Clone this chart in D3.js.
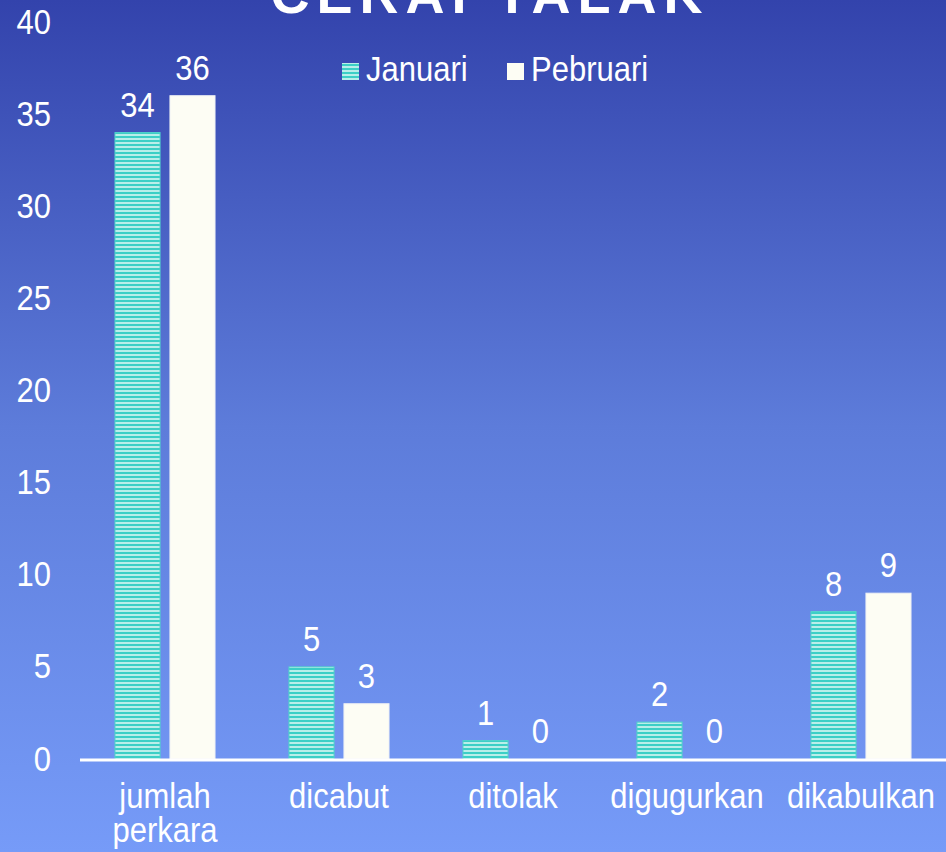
<!DOCTYPE html>
<html>
<head>
<meta charset="utf-8">
<script src="https://cdn.jsdelivr.net/npm/d3@7"></script>
<style>
  html, body { margin: 0; padding: 0; overflow: hidden; }
  svg text { font-family: "Liberation Sans", Arial, sans-serif; fill: #fff; }
</style>
</head>
<body>
<svg class="chart" width="946" height="852"></svg>
<script>
var categories = [["jumlah", "perkara"], ["dicabut"], ["ditolak"], ["digugurkan"], ["dikabulkan"]];
var series = ["Januari", "Pebruari"];
var januari = [34, 5, 1, 2, 8];
var pebruari = [36, 3, 0, 0, 9];
var yTicks = [0, 5, 10, 15, 20, 25, 30, 35, 40];

var values = [januari, pebruari];
var svg = d3.select(".chart");
var width = 946, height = 852;
var fontSize = "31px";

// the source text looks a bit taller than wide
function stretch(sel) {
    sel.attr("transform", function () {
        var t = d3.select(this);
        var x = +t.attr("x") || 0, yy = +t.attr("y") || 0;
        return "translate(" + x + "," + yy + ") scale(1,1.13) translate(" + (-x) + "," + (-yy) + ")";
    });
}

var defs = svg.append("defs");
var bg = defs.append("linearGradient").attr("id", "bg")
    .attr("x1", 0).attr("y1", 0).attr("x2", 0).attr("y2", 1);
bg.append("stop").attr("offset", "0%").attr("stop-color", "#3343ac");
bg.append("stop").attr("offset", "50%").attr("stop-color", "#5d7cda");
bg.append("stop").attr("offset", "100%").attr("stop-color", "#769bf8");

var pat = defs.append("pattern").attr("id", "stripes")
    .attr("patternUnits", "userSpaceOnUse").attr("width", 8).attr("height", 4);
pat.append("rect").attr("width", 8).attr("height", 4).attr("fill", "#b9eee9");
pat.append("rect").attr("width", 8).attr("height", 2).attr("fill", "#3ccfc6");

svg.append("rect").attr("width", width).attr("height", height).attr("fill", "url(#bg)");

var x0 = d3.scaleBand().domain(d3.range(categories.length))
    .range([78, 948]).paddingInner(0.425).paddingOuter(0.2125);
var x1 = d3.scaleBand().domain(series).range([0, x0.bandwidth()]).paddingInner(0.18);
var y = d3.scaleLinear().domain([0, 40]).range([759, 22]);
var colors = ["url(#stripes)", "#fdfdf4"];

// title (cut off at top in the source)
svg.append("text")
    .attr("x", 490).attr("y", 13)
    .attr("text-anchor", "middle")
    .style("font-size", "54px").style("font-weight", "bold")
    .style("letter-spacing", "7px")
    .text("CERAI TALAK");

// y axis labels
var yAxis = svg.append("g")
    .attr("transform", "translate(51,0)")
    .call(d3.axisLeft(y).tickValues(yTicks).tickSize(0).tickPadding(0));
yAxis.select(".domain").remove();
yAxis.selectAll("text")
    .attr("dy", null).attr("dominant-baseline", null)
    .attr("y", 11)
    .style("font-size", fontSize).attr("fill", "#fff")
    .call(stretch);

// bars
var groups = svg.selectAll(".grp").data(categories).enter().append("g")
    .attr("class", "grp")
    .attr("transform", function (d, i) { return "translate(" + x0(i) + ",0)"; });

series.forEach(function (s, si) {
    groups.append("rect")
        .attr("x", x1(s))
        .attr("y", function (d, i) { return y(values[si][i]); })
        .attr("width", x1.bandwidth())
        .attr("height", function (d, i) { return y(0) - y(values[si][i]); })
        .attr("fill", colors[si])
        .attr("stroke", si === 0 ? "#4fd3cb" : "#eef0f4")
        .attr("stroke-width", 1);

    groups.append("text")
        .attr("x", x1(s) + x1.bandwidth() / 2)
        .attr("y", function (d, i) { return y(values[si][i]) - 16; })
        .attr("text-anchor", "middle")
        .style("font-size", fontSize)
        .text(function (d, i) { return values[si][i]; })
        .call(stretch);
});

// x axis line
svg.append("line")
    .attr("x1", 80).attr("x2", 946).attr("y1", 760).attr("y2", 760)
    .attr("stroke", "#fff").attr("stroke-width", 3);

// category labels
groups.append("text")
    .attr("x", x0.bandwidth() / 2)
    .attr("y", 808)
    .attr("text-anchor", "middle")
    .style("font-size", fontSize)
    .call(stretch)
    .selectAll("tspan").data(function (d) { return d; }).enter().append("tspan")
    .attr("x", x0.bandwidth() / 2)
    .attr("dy", function (d, i) { return i === 0 ? 0 : 30; })
    .text(function (d) { return d; });

// legend
var legend = svg.append("g");
var legendX = [342, 507];
series.forEach(function (s, si) {
    legend.append("rect")
        .attr("x", legendX[si]).attr("y", 63)
        .attr("width", 17).attr("height", 17)
        .attr("fill", colors[si]);
    legend.append("text")
        .attr("x", legendX[si] + 24).attr("y", 81)
        .style("font-size", fontSize)
        .text(s)
        .call(stretch);
});
</script>
</body>
</html>
